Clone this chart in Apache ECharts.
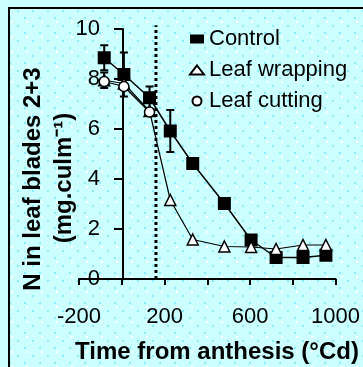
<!DOCTYPE html>
<html><head><meta charset="utf-8">
<script src="https://cdn.jsdelivr.net/npm/echarts@6/dist/echarts.min.js"></script>
<style>html,body{margin:0;padding:0;background:#ccffff}#c{width:363px;height:367px}</style>
</head><body><div id="c"></div>
<script>
// ---- data ----
const times = [-82, 10, 130, 227, 332, 480, 605, 722, 848, 955];
const control = [8.85, 8.18, 7.25, 5.92, 4.62, 3.02, 1.56, 0.86, 0.86, 0.95];
const controlErr = [0.5, 0.88, 0.45, 0.84, null, null, null, null, null, null];
const wrapping = [7.95, 7.82, 6.72, 3.16, 1.58, 1.3, 1.28, 1.2, 1.36, 1.36];
const wrappingErr = [0.31, null, null, null, null, null, null, null, null, null];
const cuttingTimes = [-82, 10, 130];
const cutting = [7.9, 7.7, 6.68];
const treatmentTime = 160;
const treatmentSpan = [0, 10.15];
const xTickLabels = [-200, 200, 600, 1000];
const yTickLabels = [0, 2, 4, 6, 8, 10];
const seriesNames = ['Control', 'Leaf wrapping', 'Leaf cutting'];
const xTitle = 'Time from anthesis (°Cd)';
const yTitle1 = 'N in leaf blades 2+3';
const yTitle2 = '(mg.culm⁻¹)';

// background dotted tile
const tile = document.createElement('canvas');
tile.width = 15; tile.height = 15;
const tc = tile.getContext('2d');
tc.fillStyle = '#ccffff'; tc.fillRect(0, 0, 15, 15);
tc.fillStyle = '#ffffff'; tc.fillRect(11, 6, 2, 2);
tc.fillStyle = '#88eeff'; tc.fillRect(9, 2, 2, 2); tc.fillRect(2, 10, 2, 2);

const FONT = 'Liberation Sans, Arial, sans-serif';
const pair = (xs, ys) => xs.map((x, i) => [x, ys[i]]);

function errSeries(vals, errs) {
  const data = [];
  times.forEach((t, i) => { if (errs[i] != null) data.push([t, vals[i] - errs[i], vals[i] + errs[i]]); });
  return {
    type: 'custom', z: 1, silent: true, data,
    encode: { x: 0, y: [1, 2] },
    renderItem: (params, api) => {
      const x = api.value(0);
      const lo = api.coord([x, api.value(1)]);
      const hi = api.coord([x, api.value(2)]);
      const w = 4;
      const s = { stroke: '#000', lineWidth: 2 };
      return { type: 'group', children: [
        { type: 'line', shape: { x1: lo[0], y1: lo[1], x2: hi[0], y2: hi[1] }, style: s },
        { type: 'line', shape: { x1: lo[0] - w, y1: lo[1], x2: lo[0] + w, y2: lo[1] }, style: s },
        { type: 'line', shape: { x1: hi[0] - w, y1: hi[1], x2: hi[0] + w, y2: hi[1] }, style: s }
      ] };
    }
  };
}

const chart = echarts.init(document.getElementById('c'), null, { renderer: 'canvas' });
chart.setOption({
  animation: false,
  backgroundColor: '#ccffff',
  grid: { left: 79, top: 29, width: 264, height: 250, containLabel: false },
  graphic: [
    { type: 'rect', z: -10, silent: true, shape: { x: 9, y: 8, width: 360, height: 365 }, style: { fill: { image: tile, repeat: 'repeat' } } },
    { type: 'polyline', z: -9, silent: true, shape: { points: [[9, 380], [9, 8], [380, 8]] }, style: { stroke: '#000', lineWidth: 2, fill: null } },
    { type: 'text', x: 217, y: 352, style: { text: xTitle, font: 'bold 24px ' + FONT, fill: '#000', textAlign: 'center', textVerticalAlign: 'middle' } },
    { type: 'text', x: 33, y: 179, rotation: Math.PI / 2, style: { text: yTitle1, font: 'bold 24px ' + FONT, fill: '#000', textAlign: 'center', textVerticalAlign: 'middle' } },
    { type: 'text', x: 64, y: 178, rotation: Math.PI / 2, style: { text: yTitle2, font: 'bold 24px ' + FONT, fill: '#000', textAlign: 'center', textVerticalAlign: 'middle' } }
  ],
  legend: {
    orient: 'vertical', left: 184, top: 23, itemWidth: 14, itemHeight: 9, itemGap: 9,
    selectedMode: false,
    data: [{ name: seriesNames[0], icon: 'rect' }, { name: seriesNames[1], icon: 'triangle' }, { name: seriesNames[2], icon: 'circle' }],
    textStyle: { fontSize: 22, fontFamily: FONT, color: '#000', lineHeight: 22 }
  },
  xAxis: {
    type: 'value', min: -200, max: 1000, interval: 200,
    axisLine: { onZero: true, lineStyle: { color: '#000', width: 2 } },
    axisTick: { inside: false, length: 6, lineStyle: { color: '#000', width: 2 } },
    axisLabel: { margin: 27, fontSize: 22, fontFamily: FONT, color: '#000',
      formatter: v => xTickLabels.includes(v) ? String(v) : '' },
    splitLine: { show: false }
  },
  yAxis: {
    type: 'value', min: 0, max: 10, interval: 2, offset: -44,
    axisLine: { show: true, onZero: false, lineStyle: { color: '#000', width: 2 } },
    axisTick: { show: true, inside: false, length: 9, lineStyle: { color: '#000', width: 2 } },
    axisLabel: { margin: 23, fontSize: 22, fontFamily: FONT, color: '#000', padding: [7, 0, 0, 0],
      formatter: v => yTickLabels.includes(v) ? String(v) : '' },
    splitLine: { show: false }
  },
  series: [
    errSeries(control, controlErr),
    errSeries(wrapping, wrappingErr),
    {
      name: 'treatment', type: 'line', z: 0, clip: false, silent: true,
      data: treatmentSpan.map(v => [treatmentTime, v]),
      symbol: 'none', lineStyle: { color: '#000', width: 3, type: [3, 3] }
    },
    {
      name: seriesNames[0], type: 'line', z: 3, data: pair(times, control),
      symbol: 'rect', symbolSize: 13, itemStyle: { color: '#000' },
      lineStyle: { color: '#000', width: 1.5 }
    },
    {
      name: seriesNames[1], type: 'line', z: 4, data: pair(times, wrapping),
      symbol: 'triangle', symbolSize: 11,
      itemStyle: { color: '#fff', borderColor: '#000', borderWidth: 1.5 },
      lineStyle: { color: '#000', width: 1.2 }
    },
    {
      name: seriesNames[2], type: 'line', z: 5, data: pair(cuttingTimes, cutting),
      symbol: 'circle', symbolSize: 10,
      itemStyle: { color: '#fff', borderColor: '#000', borderWidth: 1.5 },
      lineStyle: { color: '#000', width: 1.2 }
    }
  ]
});
</script></body></html>
